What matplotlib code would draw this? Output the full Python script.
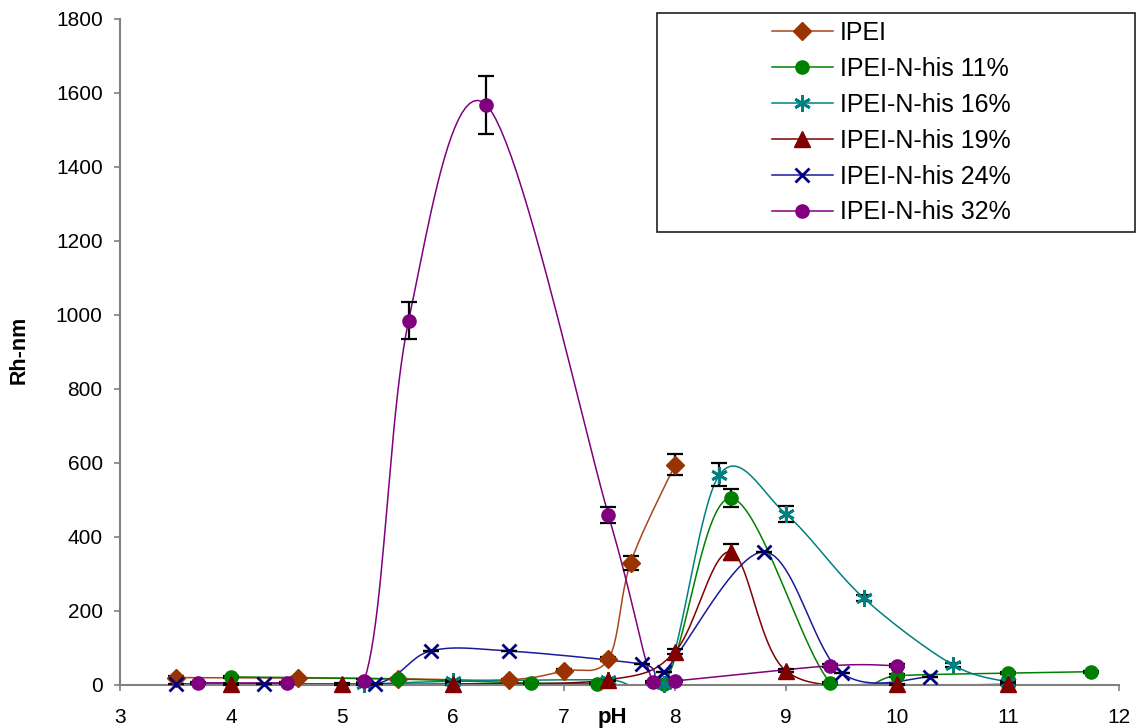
import numpy as np
import matplotlib
matplotlib.use("Agg")
import matplotlib.pyplot as plt
from matplotlib.lines import Line2D
from matplotlib.patches import Rectangle

plt.rcParams["font.family"] = ["Liberation Sans", "DejaVu Sans"]

# Hydrodynamic radius (nm) versus pH for each polymer
ipei_ph = [3.5, 4.6, 5.5, 6.5, 7.0, 7.4, 7.6, 8.0]
ipei_rh = [20, 19, 17, 14, 38, 70, 330, 595]
ipei_err = [3, 3, 3, 3, 4, 5, 18, 28]

his11_ph = [4.0, 5.5, 6.7, 7.3, 7.9, 8.5, 9.4, 10.0, 11.0, 11.75]
his11_rh = [22, 16, 5, 4, 3, 505, 6, 25, 32, 36]
his11_err = [3, 3, 2, 2, 2, 25, 3, 4, 3, 3]

his16_ph = [5.2, 6.0, 7.4, 7.9, 8.4, 9.0, 9.7, 10.5, 11.0]
his16_rh = [2, 10, 14, 3, 568, 462, 235, 55, 8]
his16_err = [2, 3, 3, 2, 31, 22, 8, 5, 3]

his19_ph = [4.0, 5.0, 6.0, 7.4, 8.0, 8.5, 9.0, 10.0, 11.0]
his19_rh = [3, 3, 3, 14, 90, 360, 38, 2, 2]
his19_err = [2, 2, 2, 3, 6, 21, 4, 2, 2]

his24_ph = [3.5, 4.3, 5.3, 5.8, 6.5, 7.7, 7.9, 8.8, 9.5, 10.3]
his24_rh = [3, 3, 3, 92, 92, 57, 36, 360, 33, 22]
his24_err = [0, 0, 0, 0, 0, 0, 0, 0, 0, 0]

his32_ph = [3.7, 4.5, 5.2, 5.6, 6.3, 7.4, 7.8, 8.0, 9.4, 10.0]
his32_rh = [6, 6, 12, 985, 1568, 460, 8, 11, 52, 52]
his32_err = [2, 2, 3, 49, 78, 22, 2, 3, 4, 4]

labels = ["IPEI", "IPEI-N-his 11%", "IPEI-N-his 16%", "IPEI-N-his 19%",
          "IPEI-N-his 24%", "IPEI-N-his 32%"]

x_ticks = [3, 4, 5, 6, 7, 8, 9, 10, 11, 12]
y_ticks = [0, 200, 400, 600, 800, 1000, 1200, 1400, 1600, 1800]


def smooth(x, y, n=24):
    """Catmull-Rom style Bezier curve through the points."""
    pts = np.column_stack([x, y]).astype(float)
    P = np.vstack([pts[0], pts, pts[-1]])
    t = np.linspace(0, 1, n)[:, None]
    segs = []
    for i in range(1, len(P) - 2):
        p0, p1, p2, p3 = P[i - 1], P[i], P[i + 1], P[i + 2]
        c1 = p1 + (p2 - p0) / 6.0
        c2 = p2 - (p3 - p1) / 6.0
        seg = ((1 - t) ** 3 * p1 + 3 * (1 - t) ** 2 * t * c1
               + 3 * (1 - t) * t ** 2 * c2 + t ** 3 * p2)
        segs.append(seg)
    out = np.vstack(segs)
    return out[:, 0], out[:, 1]


series = [
    (ipei_ph, ipei_rh, ipei_err, "#993300", "#A8471E", "D", 9, {}),
    (his11_ph, his11_rh, his11_err, "#008000", "#008000", "o", 9.5, {}),
    (his16_ph, his16_rh, his16_err, "#008080", "#008080", (6, 2, 0), 12,
     {"markeredgewidth": 2.0}),
    (his19_ph, his19_rh, his19_err, "#800000", "#800000", "^", 11, {}),
    (his24_ph, his24_rh, his24_err, "#000080", "#1A1A9A", "x", 10,
     {"markeredgewidth": 2.0}),
    (his32_ph, his32_rh, his32_err, "#800080", "#800080", "o", 9.5, {}),
]

fig = plt.figure(figsize=(11.39, 7.28), dpi=100)
ax = fig.add_axes([120 / 1139, 1 - 685 / 728, 999 / 1139, 666 / 728])

handles = []
for i, (xs, ys, es, mc, lc, mk, ms, extra) in enumerate(series):
    sx, sy = smooth(xs, ys)
    ax.plot(sx, sy, color=lc, lw=1.1, zorder=2 + i * 0.1)
    ax.errorbar(xs, ys, yerr=es, fmt="none", ecolor="black", elinewidth=1.6,
                capsize=6, capthick=1.6, zorder=3, clip_on=False)
    ax.plot(xs, ys, linestyle="none", marker=mk, markersize=ms,
            color=mc, markerfacecolor=mc, markeredgecolor=mc,
            zorder=4 + i * 0.1, clip_on=False, **extra)
    handles.append(Line2D([], [], color=lc, lw=1.1, marker=mk,
                          markersize=ms, markerfacecolor=mc,
                          markeredgecolor=mc, **extra))

ax.set_xlim(3, 12)
ax.set_ylim(0, 1800)
ax.set_xticks(x_ticks)
ax.set_yticks(y_ticks)
ax.set_xticklabels([str(v) for v in x_ticks])
ax.set_yticklabels([str(v) for v in y_ticks])

for side in ["top", "right"]:
    ax.spines[side].set_visible(False)
for side in ["left", "bottom"]:
    ax.spines[side].set_color("#808080")
    ax.spines[side].set_linewidth(1.5)

ax.tick_params(axis="y", direction="out", length=4.5, width=1.2,
               color="#808080", pad=8, labelsize=15, labelcolor="black")
ax.tick_params(axis="x", direction="out", length=4, width=1.2,
               color="#808080", pad=12.5, labelsize=15, labelcolor="black")

ax.set_ylabel("Rh-nm", fontsize=15.5, fontweight="bold", va="center")
ax.yaxis.set_label_coords((19 - 120) / 999, (685 - 350) / 666)
ax.set_xlabel("pH", fontsize=16, fontweight="bold", va="center")
ax.xaxis.set_label_coords((612 - 120) / 999, (685 - 717) / 666)

# Legend frame and entries
fig.add_artist(Rectangle((657 / 1139, 1 - 232 / 728), (1135 - 657) / 1139,
                         (232 - 13) / 728, transform=fig.transFigure,
                         facecolor="white", edgecolor="#202020", lw=1.2,
                         zorder=4))
fig.legend(handles, labels, loc="upper left",
           bbox_to_anchor=(772 / 1139, 1 - 21 / 728),
           bbox_transform=fig.transFigure, frameon=False, borderpad=0,
           borderaxespad=0, fontsize=18, handlelength=2.44,
           handletextpad=0.28, labelspacing=0.475)

fig.savefig("out.png", dpi=100)
